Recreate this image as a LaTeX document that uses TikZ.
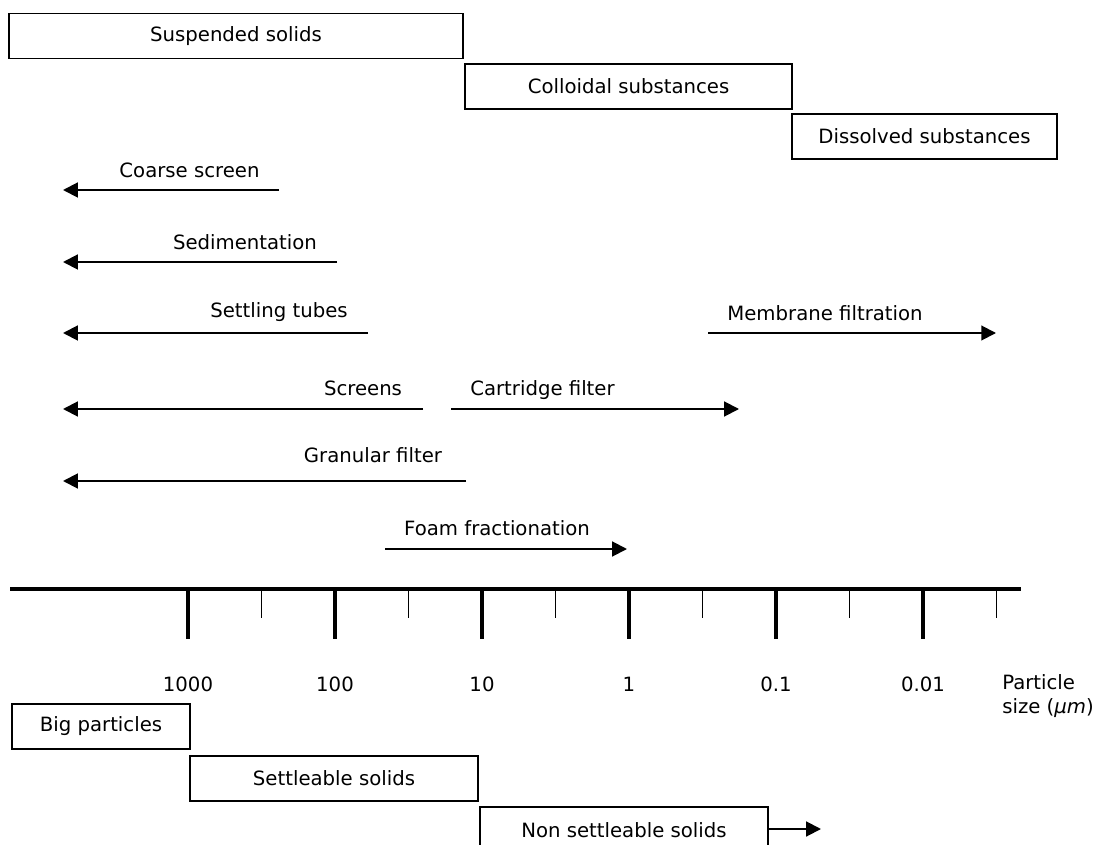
\documentclass[tikz,border=0pt]{standalone}
\usepackage{fontspec}
\setmainfont{DejaVu Sans}
\usetikzlibrary{arrows.meta}

\begin{document}
\begin{tikzpicture}[x=0.025cm, y=-0.025cm,
    every node/.style={font=\fontsize{14}{17}\selectfont},
    box/.style={rectangle, draw, line width=1.2pt, minimum height=1.125cm, inner sep=0pt},
    method/.style={line width=1.4pt, -{Triangle[length=10.5pt, width=10.5pt]}},
    major/.style={line width=2.2pt},
    minor/.style={line width=1pt}]

% Frame
\clip (0,0) rectangle (1109,845);

% Size classes
\node [box, minimum width=11.35cm] (susp) at (236,36) {Suspended solids};
\node [box, minimum width=8.175cm] (coll) at (628.5,86.5) {Colloidal substances};
\node [box, minimum width=6.625cm] (diss) at (924.5,136.5) {Dissolved substances};

% Treatment methods
\coordinate (coarseA) at (279,190);
\coordinate (coarseB) at (63,190);
\coordinate (sedA) at (337,262);
\coordinate (sedB) at (63,262);
\coordinate (tubesA) at (368,333);
\coordinate (tubesB) at (63,333);
\coordinate (membA) at (708,333);
\coordinate (membB) at (996,333);
\coordinate (screensA) at (423,409);
\coordinate (screensB) at (63,409);
\coordinate (cartA) at (451,409);
\coordinate (cartB) at (739,409);
\coordinate (granA) at (466,481);
\coordinate (granB) at (63,481);
\coordinate (foamA) at (385,549);
\coordinate (foamB) at (627,549);

\draw[method] (coarseA) -- (coarseB);
\draw[method] (sedA) -- (sedB);
\draw[method] (tubesA) -- (tubesB);
\draw[method] (membA) -- (membB);
\draw[method] (screensA) -- (screensB);
\draw[method] (cartA) -- (cartB);
\draw[method] (granA) -- (granB);
\draw[method] (foamA) -- (foamB);

\node (coarse) at (189.5,170) {Coarse screen};
\node (sed) at (245,242) {Sedimentation};
\node (tubes) at (279,312) {Settling tubes};
\node (memb) at (825,313) {Membrane filtration};
\node (screens) at (363,388) {Screens};
\node (cart) at (542.5,390) {Cartridge filter};
\node (gran) at (373,455) {Granular filter};
\node (foam) at (497,528) {Foam fractionation};

% Size axis
\draw[line width=2.5pt] (10,589) -- (1021,589);
\foreach \i in {0,...,5} {
    \draw[major] (188+147*\i,589) -- (188+147*\i,639);
    \draw[minor] (261.5+147*\i,589) -- (261.5+147*\i,618);
}
\node (t1000) at (188,684) {1000};
\node (t100) at (335,684) {100};
\node (t10) at (482,684) {10};
\node (t1) at (629,684) {1};
\node (t01) at (776,684) {0.1};
\node (t001) at (923,684) {0.01};
\node [anchor=west, align=left, inner sep=0pt] (unit) at (1002,696) {Particle\\size (\textit{µm})};

% Settling classes
\node [box, minimum width=4.45cm] (big) at (101,726.5) {Big particles};
\node [box, minimum width=7.2cm] (settle) at (334,778.5) {Settleable solids};
\node [box, minimum width=7.2cm, minimum height=1.15cm] (nss) at (624,830) {Non settleable solids};
\coordinate (nssEnd) at (821,829);
\draw[method] (nss.east |- nssEnd) -- (nssEnd);

\end{tikzpicture}
\end{document}
